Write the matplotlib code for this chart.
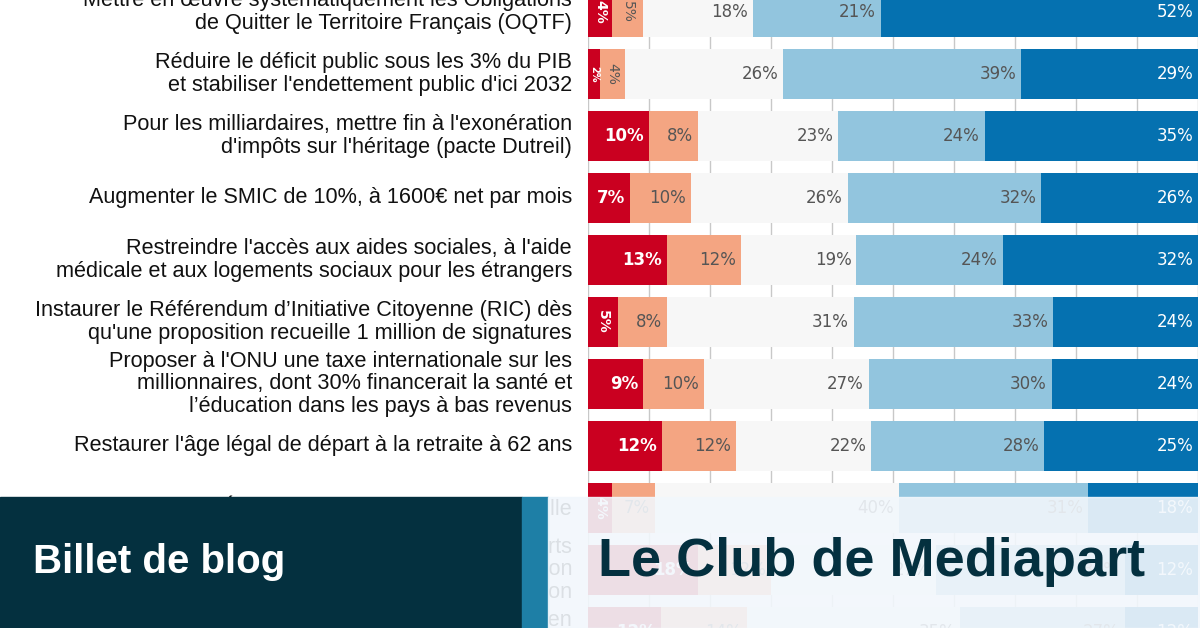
import matplotlib
matplotlib.use("Agg")
import matplotlib.pyplot as plt
from matplotlib.patches import Rectangle

labels = [
    "Mettre en œuvre systématiquement les Obligations\nde Quitter le Territoire Français (OQTF)",
    "Réduire le déficit public sous les 3% du PIB\net stabiliser l'endettement public d'ici 2032",
    "Pour les milliardaires, mettre fin à l'exonération\nd'impôts sur l'héritage (pacte Dutreil)",
    "Augmenter le SMIC de 10%, à 1600€ net par mois",
    "Restreindre l'accès aux aides sociales, à l'aide\nmédicale et aux logements sociaux pour les étrangers",
    "Instaurer le Référendum d’Initiative Citoyenne (RIC) dès\nqu'une proposition recueille 1 million de signatures",
    "Proposer à l'ONU une taxe internationale sur les\nmillionnaires, dont 30% financerait la santé et\nl’éducation dans les pays à bas revenus",
    "Restaurer l'âge légal de départ à la retraite à 62 ans",
    "Élire les députés à la proportionnelle",
    "Interdire les jets privés pour les trajets courts\net taxer les vols en première classe et en avion\nprivé selon la distance et la consommation",
    "Rétablir l'impôt sur la fortune en\nl'élargissant aux biens d'usage et en taxez",
]
tres_oppose = [4, 2, 10, 7, 13, 5, 9, 12, 4, 18, 12]
plutot_oppose = [5, 4, 8, 10, 12, 8, 10, 12, 7, 12, 14]
neutre = [18, 26, 23, 26, 19, 31, 27, 22, 40, 27, 35]
plutot_favorable = [21, 39, 24, 32, 24, 33, 30, 28, 31, 31, 27]
tres_favorable = [52, 29, 35, 26, 32, 24, 24, 25, 18, 12, 12]

series = [tres_oppose, plutot_oppose, neutre, plutot_favorable, tres_favorable]
colors = ["#ca0020", "#f4a582", "#f7f7f7", "#92c5de", "#0571b0"]
text_colors = ["white", "#555555", "#555555", "#555555", "white"]

fig = plt.figure(figsize=(12, 6.28), dpi=100)
ax = fig.add_axes([588 / 1200, 0, 610 / 1200, 1])
ax.set_xlim(0, 100)
ax.set_ylim((628 - 12) / 62, -12 / 62)
ax.axis("off")
for g in range(0, 101, 10):
    ax.axvline(g, color="#c8c8c8", lw=1, zorder=0)

for i in range(len(labels)):
    left = 0
    total = sum(s[i] for s in series)
    for s, vals in enumerate(series):
        v = vals[i]
        w = v * 100 / total
        ax.barh(i, w, left=left, height=0.8, color=colors[s], zorder=2, lw=0)
        if v >= 6:
            ax.text(left + w - 0.8, i, f"{v}%", ha="right", va="center",
                    fontsize=12, color=text_colors[s], zorder=3,
                    fontweight="bold" if s == 0 else "normal")
        else:
            ax.text(left + w / 2, i, f"{v}%", ha="center", va="center", rotation=-90,
                    fontsize=7 if v < 3 else 10, color=text_colors[s], zorder=3,
                    fontweight="bold" if s == 0 else "normal")
        left += w
    fig.text(572 / 1200, 1 - (12 + 62 * i) / 628, labels[i], ha="right", va="center",
             fontsize=15.6, family="Liberation Sans", color="#111111", linespacing=1.1)

# blog banner overlay
fig.patches.append(Rectangle((0, 0), 522 / 1200, 131 / 628, transform=fig.transFigure,
                             color="#04303f", zorder=10))
fig.patches.append(Rectangle((522 / 1200, 0), 26 / 1200, 131 / 628, transform=fig.transFigure,
                             color="#1e7fa6", zorder=10))
fig.patches.append(Rectangle((548 / 1200, 0), 652 / 1200, 131 / 628, transform=fig.transFigure,
                             color="#f2f7fc", alpha=0.9, zorder=10))
fig.text(33 / 1200, 1 - 562 / 628, "Billet de blog", color="white", fontsize=29,
         family="Liberation Sans", fontweight="bold", va="center", ha="left", zorder=11)
fig.text(598 / 1200, 1 - 562 / 628, "Le Club de Mediapart", color="#04303f", fontsize=39,
         family="Liberation Sans", fontweight="bold", va="center", ha="left", zorder=11)

fig.savefig("out.png", dpi=100)
